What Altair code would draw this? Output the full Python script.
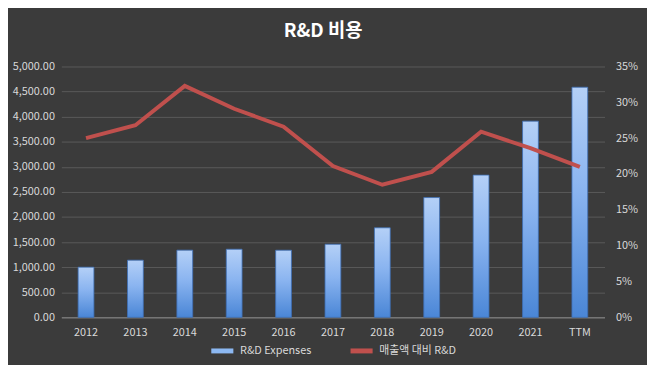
import altair as alt
import pandas as pd

years = ["2012", "2013", "2014", "2015", "2016", "2017", "2018", "2019", "2020", "2021", "TTM"]
rd_expenses = [1000, 1140, 1340, 1358, 1338, 1457, 1785, 2388, 2835, 3911, 4587]
rd_ratio = [0.250, 0.268, 0.323, 0.291, 0.266, 0.211, 0.185, 0.203, 0.259, 0.236, 0.210]
series_names = ["R&D Expenses", "매출액 대비 R&D"]
series_colors = ["#8cb8f2", "#c0504d"]

df = pd.DataFrame({
    "year": years,
    "rd": rd_expenses,
    "ratio": rd_ratio,
    "s_bar": series_names[0],
    "s_line": series_names[1],
})

FONT = "Noto Sans CJK KR"
LABEL = "#d9d9d9"

x = alt.X("year:N", sort=years, title=None,
          scale=alt.Scale(paddingInner=0, paddingOuter=0),
          axis=alt.Axis(labelAngle=0, ticks=False, domainColor="#8a8a8a",
                        labelColor=LABEL, labelFontSize=11, labelFont=FONT,
                        labelPadding=9, grid=False))

color_scale = alt.Scale(domain=series_names, range=series_colors)

bar_gradient = alt.LinearGradient(
    gradient="linear",
    stops=[alt.GradientStop(color="#b4d0f7", offset=0),
           alt.GradientStop(color="#8ab4f0", offset=0.45),
           alt.GradientStop(color="#4a86d6", offset=1)],
    x1=0, x2=0, y1=0, y2=1)

bars = alt.Chart(df).mark_bar(size=16, fill=bar_gradient, stroke="#3d6fb5", strokeWidth=0.8).encode(
    x=x,
    y=alt.Y("rd:Q", title=None,
            scale=alt.Scale(domain=[0, 5000]),
            axis=alt.Axis(format=",.2f", values=list(range(0, 5001, 500)),
                          domain=False, ticks=False, gridColor="#5a5a5a",
                          gridWidth=1, labelColor=LABEL, labelFontSize=11,
                          labelFont=FONT, labelPadding=7)),
    color=alt.Color("s_bar:N", scale=color_scale, title=None),
)

line = alt.Chart(df).mark_line(strokeWidth=4, color="#c0504d").encode(
    x=x,
    y=alt.Y("ratio:Q", title=None,
            scale=alt.Scale(domain=[0, 0.35]),
            axis=alt.Axis(orient="right", format=".0%",
                          values=[0, 0.05, 0.10, 0.15, 0.20, 0.25, 0.30, 0.35],
                          domain=False, ticks=False, grid=False,
                          labelColor=LABEL, labelFontSize=11, labelFont=FONT,
                          labelPadding=11)),
    color=alt.Color("s_line:N", scale=color_scale, title=None,
                    legend=alt.Legend(orient="none", legendX=149, legendY=274,
                                      direction="horizontal", symbolType="stroke",
                                      symbolStrokeWidth=5, symbolSize=500,
                                      labelColor=LABEL, labelFontSize=11,
                                      labelFont=FONT, columnPadding=28,
                                      symbolOffset=0)),
)

chart = alt.layer(bars, line).resolve_scale(y="independent").properties(
    width=550, height=254,
    autosize=alt.AutoSizeParams(type="none"),
    padding={"left": 54, "top": 57, "right": 43, "bottom": 46},
    background="#3b3b3b",
    title=alt.TitleParams("R&D 비용", color="#ffffff", fontSize=19,
                          font=FONT, fontWeight="bold", anchor="middle",
                          dx=-10, offset=20),
).configure_view(stroke=None)

chart.save("out.html", embed_options={"renderer": "svg", "actions": False})
